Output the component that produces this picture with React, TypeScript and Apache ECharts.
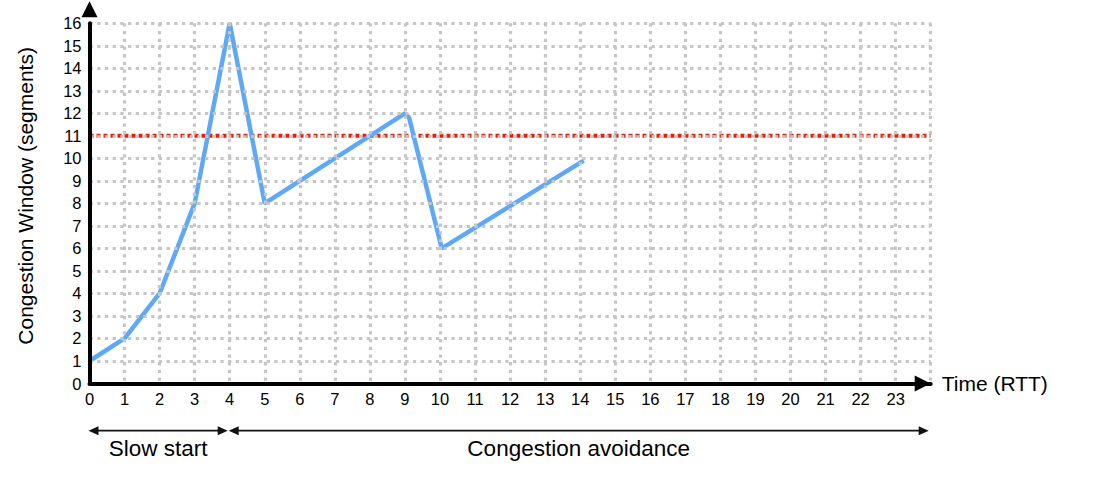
import React, { useEffect, useRef } from 'react';
import * as echarts from 'echarts';

// Congestion window (segments) over time (RTT)
const cwndTimes = [0, 1, 2, 3, 4, 5, 6, 7, 8, 9, 9.12, 10.05, 14.1];
const cwndValues = [1, 2, 4, 8, 16, 8, 9, 10, 11, 12, 11.8, 6, 9.9];

// Slow-start threshold
const ssthreshTimes = [0, 24];
const ssthreshValues = [11, 11];

// Phase annotations below the axis
const phaseNames = ['Slow start', 'Congestion avoidance'];
const phaseStarts = [0, 4];
const phaseEnds = [4, 24];

const xMin = 0;
const xMax = 24;
const yMin = 0;
const yMax = 16;

const FONT = '"Liberation Sans", Arial, sans-serif';

export default function App() {
  const ref = useRef<HTMLDivElement>(null);

  useEffect(() => {
    if (!ref.current) return;
    const chart = echarts.init(ref.current, undefined, { renderer: 'svg' });

    const gridLine = { show: true, lineStyle: { color: '#c6c6c6', width: 3.2, type: [3.3, 4.4] as any } };

    chart.setOption({
      animation: false,
      textStyle: { fontFamily: FONT },
      grid: { left: 89.5, right: 171.3, top: 23.3, bottom: 93.5, containLabel: false },
      xAxis: {
        type: 'value',
        min: xMin,
        max: xMax,
        interval: 1,
        name: 'Time (RTT)',
        nameLocation: 'end',
        nameGap: 11,
        nameTextStyle: { fontSize: 21, color: '#000', fontFamily: FONT, padding: [6, 0, 0, 0] },
        axisLine: {
          show: true,
          onZero: false,
          lineStyle: { color: '#000', width: 4 },
          symbol: ['none', 'triangle'],
          symbolSize: [16, 16],
          symbolOffset: [0, -8],
        },
        axisTick: { show: false },
        axisLabel: {
          fontSize: 16.5,
          color: '#000',
          margin: 7,
          fontFamily: FONT,
          showMaxLabel: false,
          formatter: (v: number) => (v >= xMax ? '' : String(v)),
        },
        splitLine: gridLine,
        z: 5,
      },
      yAxis: {
        type: 'value',
        min: yMin,
        max: yMax,
        interval: 1,
        name: 'Congestion Window (segments)',
        nameLocation: 'middle',
        nameGap: 54,
        nameTextStyle: { fontSize: 21, color: '#000', fontFamily: FONT, padding: [0, 0, 0, 15] },
        axisLine: {
          show: true,
          onZero: false,
          lineStyle: { color: '#000', width: 4 },
          symbol: ['none', 'triangle'],
          symbolSize: [16, 16],
          symbolOffset: [0, 14],
        },
        axisTick: { show: false },
        axisLabel: { fontSize: 16.5, color: '#000', margin: 8, fontFamily: FONT },
        splitLine: gridLine,
        z: 5,
      },
      series: [
        {
          name: 'ssthresh',
          type: 'line',
          data: ssthreshTimes.map((t, i) => [t, ssthreshValues[i]]),
          symbol: 'none',
          lineStyle: { color: '#e3200b', width: 4, type: [4, 3] as any },
          z: 2,
          silent: true,
        },
        {
          name: 'cwnd',
          type: 'line',
          data: cwndTimes.map((t, i) => [t, cwndValues[i]]),
          symbol: 'none',
          lineStyle: { color: '#5fa8f6', width: 4.5 },
          z: 3,
          silent: true,
        },
      ],
    });

    const yArrow = 430.7;
    const yText = 448;
    const head = 10;
    const half = 4.5;
    const elements: any[] = [];
    phaseNames.forEach((name, i) => {
      const a = chart.convertToPixel({ gridIndex: 0 }, [phaseStarts[i], 0]) as number[];
      const b = chart.convertToPixel({ gridIndex: 0 }, [phaseEnds[i], 0]) as number[];
      const l = a[0] - 1;
      const r = b[0] - 2;
      elements.push({
        type: 'line',
        shape: { x1: l + head - 1, y1: yArrow, x2: r - head + 1, y2: yArrow },
        style: { stroke: '#111', lineWidth: 1.8 },
      });
      elements.push({
        type: 'polygon',
        shape: { points: [[l, yArrow], [l + head, yArrow - half], [l + head, yArrow + half]] },
        style: { fill: '#111' },
      });
      elements.push({
        type: 'polygon',
        shape: { points: [[r, yArrow], [r - head, yArrow - half], [r - head, yArrow + half]] },
        style: { fill: '#111' },
      });
      elements.push({
        type: 'text',
        x: (l + r) / 2,
        y: yText,
        style: {
          text: name,
          fontSize: 22.5,
          fontFamily: FONT,
          fill: '#000',
          align: 'center',
          verticalAlign: 'middle',
        },
      });
    });
    chart.setOption({ graphic: { elements } });

    return () => chart.dispose();
  }, []);

  return (
    <div
      ref={ref}
      style={{ position: 'absolute', left: 0, top: 0, width: 1102, height: 477, background: '#fff' }}
    />
  );
}
